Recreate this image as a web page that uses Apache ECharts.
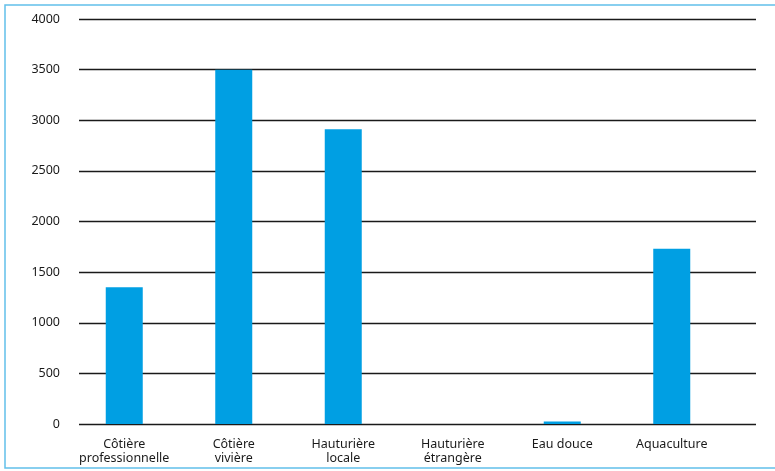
<!DOCTYPE html>
<html>
<head>
<meta charset="utf-8">
<script src="https://cdn.jsdelivr.net/npm/echarts@6/dist/echarts.min.js"></script>
<style>html,body{margin:0;padding:0;background:#fff;}#c{width:775px;height:471px;}</style>
</head>
<body>
<div id="c"></div>
<script>
var categories = ['Côtière\nprofessionnelle', 'Côtière\nvivière', 'Hauturière\nlocale', 'Hauturière\nétrangère', 'Eau douce', 'Aquaculture'];
var values = [1350, 3500, 2910, 0, 25, 1730];
var yMin = 0, yMax = 4000, yStep = 500;

var chart = echarts.init(document.getElementById('c'));
var font = '"Noto Sans", sans-serif';
chart.setOption({
  animation: false,
  backgroundColor: '#fff',
  graphic: [{
    type: 'rect', silent: true,
    shape: {x: 5, y: 5, width: 800, height: 463},
    style: {fill: 'none', stroke: '#62c0ea', lineWidth: 1.5}
  }],
  grid: [
    {left: 79, right: 19, top: 19, bottom: 47},
    {left: 69.5, width: 657, top: 19, bottom: 47}
  ],
  xAxis: [
    {type: 'value', gridIndex: 0, show: false, min: 0, max: 1},
    {type: 'category', gridIndex: 1, data: categories,
     axisLine: {show: false}, axisTick: {show: false},
     axisLabel: {color: '#1a1a1a', fontFamily: font, fontSize: 12.5, lineHeight: 14, margin: 13, interval: 0, verticalAlign: 'top'}}
  ],
  yAxis: [
    {type: 'value', gridIndex: 0, min: yMin, max: yMax, interval: yStep,
     axisLine: {show: false}, axisTick: {show: false},
     axisLabel: {color: '#1a1a1a', fontFamily: font, fontSize: 12.5, margin: 19, formatter: function (v) { return String(v); }},
     splitLine: {lineStyle: {color: '#1a1a1a', width: 1.3}}},
    {type: 'value', gridIndex: 1, min: yMin, max: yMax, interval: yStep, show: false, splitLine: {show: false}}
  ],
  series: [{
    type: 'bar', xAxisIndex: 1, yAxisIndex: 1,
    data: values, barWidth: 37,
    itemStyle: {color: '#009fe3'}
  }]
});
</script>
</body>
</html>
